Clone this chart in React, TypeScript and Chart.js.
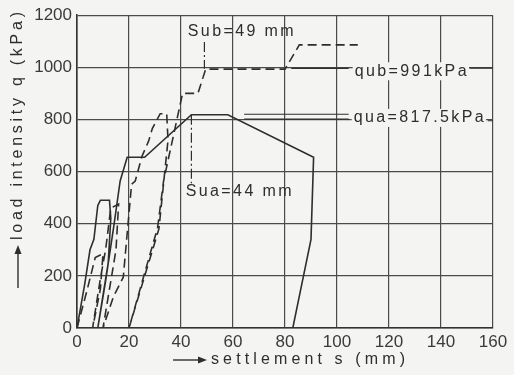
import React, { useEffect, useRef } from "react";
import { Chart, registerables } from "chart.js";

Chart.register(...registerables);

// ---- tick labels ----
const settlementTicks = [0, 20, 40, 60, 80, 100, 120, 140, 160];
const loadTicks = [0, 200, 400, 600, 800, 1000, 1200];

// ---- test a (solid) : settlement s (mm) / load q (kPa) ----
const testA_s = [0, 3, 5, 6.5, 8, 9, 12.5, 13, 12, 8, 11, 14, 15, 16.6, 19.3, 26, 44, 58, 91, 90, 83];
const testA_q = [0, 170, 300, 340, 470, 490, 490, 420, 250, 0, 180, 380, 450, 564, 655, 655, 818, 818, 655, 340, 0];

// ---- test b (dashed) ----
const testB_s = [0, 4, 7, 10, 9, 6, 9, 11, 13, 16, 15, 10, 14, 17.8, 21, 22.4, 25, 27.5, 29, 32, 34.5, 35, 31.5, 20, 31, 33.3, 36, 38.5, 40.6, 46.5, 49.5, 80, 85.5, 108];
const testB_q = [0, 150, 270, 285, 150, 0, 190, 300, 460, 475, 300, 0, 120, 195, 552, 564, 659, 716, 766, 822, 822, 720, 380, 0, 385, 564, 688, 803, 900, 900, 993, 993, 1086, 1086];

// ---- marker lines ----
const subMarker_s = [49, 49];
const subMarker_q = [1097, 995];
const suaMarker_s = [44, 44];
const suaMarker_q = [818, 555];
const qubLine_s = [82.4, 104.5];
const qubLine_q = [996, 996];
const qubTail_s = [151, 160];
const qubTail_q = [997, 997];
const quaLine1_s = [64.3, 104.5];
const quaLine1_q = [820, 820];
const quaLine2_s = [64.3, 104.5];
const quaLine2_q = [801, 801];
const quaTail_s = [158, 160];
const quaTail_q = [795, 795];

// ---- annotation labels ----
const noteTexts = ["Sub=49 mm", "qub=991kPa", "qua=817.5kPa", "Sua=44 mm"];
const noteS = [42.6, 106.8, 106.4, 41.8];
const noteQ = [1139, 985, 806, 522];

const xTitle = "settlement s (mm)";
const yTitle = "load intensity q (kPa)";

const INK = "#2e2e2e";
const BG = "#f4f4f2";
const FONT = "'Liberation Sans', Arial, sans-serif";

const pts = (xs: number[], ys: number[]) => xs.map((x, i) => ({ x, y: ys[i] }));

function drawArrow(ctx: CanvasRenderingContext2D, x1: number, y1: number, x2: number, y2: number) {
  const ang = Math.atan2(y2 - y1, x2 - x1);
  const hl = 9;
  const hw = 3.5;
  const bx = x2 - hl * Math.cos(ang);
  const by = y2 - hl * Math.sin(ang);
  ctx.beginPath();
  ctx.moveTo(x1, y1);
  ctx.lineTo(bx, by);
  ctx.lineWidth = 1.4;
  ctx.strokeStyle = INK;
  ctx.stroke();
  ctx.beginPath();
  ctx.moveTo(x2, y2);
  ctx.lineTo(bx + hw * Math.sin(ang), by - hw * Math.cos(ang));
  ctx.lineTo(bx - hw * Math.sin(ang), by + hw * Math.cos(ang));
  ctx.closePath();
  ctx.fillStyle = INK;
  ctx.fill();
}

function spacedText(ctx: CanvasRenderingContext2D, text: string, x: number, y: number, target: number) {
  (ctx as any).letterSpacing = "0px";
  const w = ctx.measureText(text).width;
  const sp = Math.max(0, (target - w) / (text.length - 1));
  (ctx as any).letterSpacing = sp + "px";
  ctx.fillText(text, x, y);
  (ctx as any).letterSpacing = "0px";
}

const decorPlugin = {
  id: "decor",
  beforeDraw(chart: any) {
    const ctx = chart.ctx;
    ctx.save();
    ctx.fillStyle = BG;
    ctx.fillRect(0, 0, chart.width, chart.height);
    ctx.restore();
  },
  afterDatasetsDraw(chart: any) {
    const ctx: CanvasRenderingContext2D = chart.ctx;
    const xs = chart.scales.x;
    const ys = chart.scales.y;
    ctx.save();
    ctx.font = "16px " + FONT;
    ctx.textBaseline = "middle";
    ctx.textAlign = "left";
    noteTexts.forEach((t, i) => {
      const px = xs.getPixelForValue(noteS[i]);
      const py = ys.getPixelForValue(noteQ[i]);
      (ctx as any).letterSpacing = "2.4px";
      const w = ctx.measureText(t).width;
      if (noteS[i] > 100) {
        ctx.fillStyle = BG;
        ctx.fillRect(px - 2, py - 9, w + 2, 18);
      }
      ctx.fillStyle = INK;
      ctx.fillText(t, px, py);
    });
    (ctx as any).letterSpacing = "0px";

    // x-axis title with arrow
    const ca = chart.chartArea;
    const xTitleY = ca.bottom + 32;
    drawArrow(ctx, 173, xTitleY, 207, xTitleY);
    ctx.fillStyle = INK;
    ctx.font = "16px " + FONT;
    ctx.textBaseline = "middle";
    spacedText(ctx, xTitle, 211, xTitleY, 194);

    // y-axis title with arrow (rotated)
    ctx.save();
    ctx.translate(18, 0);
    ctx.rotate(-Math.PI / 2);
    drawArrow(ctx, -288, 0, -245, 0);
    ctx.fillStyle = INK;
    spacedText(ctx, yTitle, -240, 0, 228);
    ctx.restore();
    ctx.restore();
  },
};

export default function App() {
  const ref = useRef<HTMLCanvasElement | null>(null);
  useEffect(() => {
    if (!ref.current) return;
    const lineDs = (label: string, xs: number[], ys: number[], dash: number[], width: number) => ({
      label,
      data: pts(xs, ys),
      showLine: true,
      borderColor: INK,
      backgroundColor: INK,
      borderWidth: width,
      borderDash: dash,
      pointRadius: 0,
      tension: 0,
      fill: false,
    });
    const chart = new Chart(ref.current, {
      type: "scatter",
      data: {
        datasets: [
          lineDs("test a", testA_s, testA_q, [], 1.6),
          lineDs("test b", testB_s, testB_q, [9, 5], 1.6),
          lineDs("Sub", subMarker_s, subMarker_q, [10, 3, 2, 3], 1.2),
          lineDs("Sua", suaMarker_s, suaMarker_q, [10, 3, 2, 3], 1.2),
          lineDs("qub", qubLine_s, qubLine_q, [], 1.3),
          lineDs("qub tail", qubTail_s, qubTail_q, [], 1.3),
          lineDs("qua 1", quaLine1_s, quaLine1_q, [], 1.2),
          lineDs("qua 2", quaLine2_s, quaLine2_q, [], 1.2),
          lineDs("qua tail", quaTail_s, quaTail_q, [], 1.2),
        ],
      },
      options: {
        animation: false,
        responsive: false,
        layout: { padding: { top: 13, right: 21, left: 0, bottom: 0 } },
        plugins: { legend: { display: false }, tooltip: { enabled: false } },
        scales: {
          x: {
            type: "linear",
            min: 0,
            max: 160,
            afterBuildTicks: (s: any) => {
              s.ticks = settlementTicks.map((v) => ({ value: v }));
            },
            afterFit: (s: any) => {
              s.height = 47;
            },
            ticks: {
              color: "#3a3a3a",
              font: { family: FONT, size: 17 },
              padding: 4,
              maxRotation: 0,
              autoSkip: false,
              callback: (v: any) => String(v),
            },
            grid: { color: "#4a4a4a", lineWidth: 1.2, drawTicks: false },
            border: { display: true, color: "#333", width: 1.6 },
          },
          y: {
            type: "linear",
            min: 0,
            max: 1200,
            afterBuildTicks: (s: any) => {
              s.ticks = loadTicks.map((v) => ({ value: v }));
            },
            afterFit: (s: any) => {
              s.width = 77;
            },
            ticks: {
              color: "#3a3a3a",
              font: { family: FONT, size: 17 },
              padding: 5,
              autoSkip: false,
              callback: (v: any) => String(v),
            },
            grid: { color: "#4a4a4a", lineWidth: 1.2, drawTicks: false },
            border: { display: true, color: "#333", width: 1.6 },
          },
        },
      },
      plugins: [decorPlugin],
    } as any);
    return () => chart.destroy();
  }, []);
  return (
    <div style={{ position: "fixed", left: 0, top: 0, width: 514, height: 375, background: BG }}>
      <canvas ref={ref} width={514} height={375} style={{ display: "block", width: 514, height: 375 }} />
    </div>
  );
}
